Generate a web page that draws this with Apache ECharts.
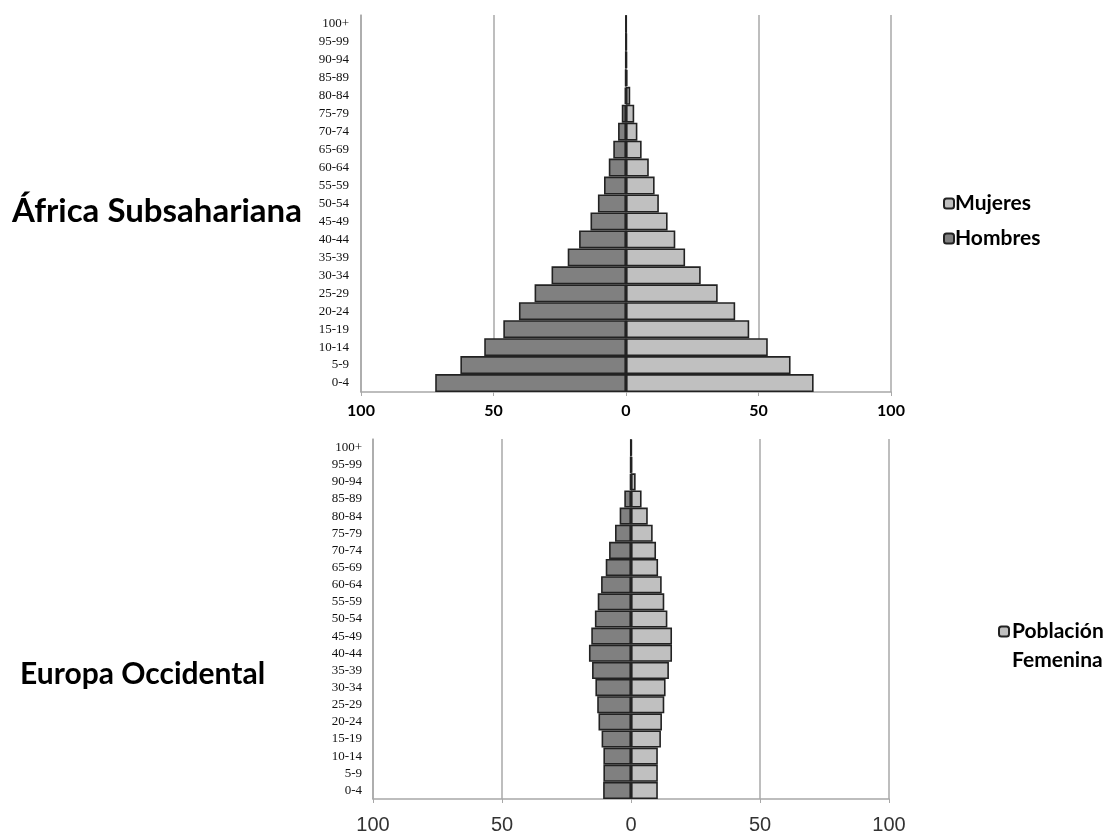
<!DOCTYPE html>
<html>
<head>
<meta charset="utf-8">
<script src="https://cdn.jsdelivr.net/npm/echarts@6/dist/echarts.min.js"></script>
<style>
  html, body { margin: 0; padding: 0; background: #ffffff; }
  #chart { width: 1108px; height: 835px; }
</style>
</head>
<body>
<div id="chart"></div>
<script>
// Age groups, youngest at the bottom
const ageGroups = ['0-4','5-9','10-14','15-19','20-24','25-29','30-34','35-39','40-44','45-49',
  '50-54','55-59','60-64','65-69','70-74','75-79','80-84','85-89','90-94','95-99','100+'];

// África Subsahariana
const africaHombres = [72, 62.5, 53.5, 46.3, 40.4, 34.5, 28.1, 22.0, 17.7, 13.4,
  10.6, 8.3, 6.5, 4.8, 3.0, 1.6, 0.5, 0.3, 0.2, 0.1, 0.1];
const africaMujeres = [70.8, 62.1, 53.5, 46.5, 41.2, 34.6, 28.2, 22.3, 18.6, 15.7,
  12.4, 10.8, 8.6, 5.9, 4.3, 3.1, 1.6, 0.6, 0.4, 0.3, 0.2];

// Europa Occidental
const europaHombres = [10.8, 10.7, 10.7, 11.4, 12.6, 13.1, 13.8, 15.1, 16.3, 15.4,
  14.0, 12.9, 11.6, 9.8, 8.5, 6.2, 4.4, 2.6, 0.4, 0.3, 0.2];
const europaMujeres = [10.4, 10.4, 10.4, 11.6, 12.0, 12.9, 13.4, 14.7, 15.9, 15.9,
  14.1, 12.9, 11.9, 10.5, 9.7, 8.4, 6.5, 4.1, 1.8, 0.5, 0.3];

const darkGrey = '#808080';
const lightGrey = '#c0c0c0';
const edge = '#222222';
const gridGrey = '#a8a8a8';
const neg = arr => arr.map(v => -v);

const chart = echarts.init(document.getElementById('chart'));

function barSeries(name, data, color, idx) {
  return {
    name: name,
    type: 'bar',
    xAxisIndex: idx,
    yAxisIndex: idx,
    data: data,
    barGap: '-100%',
    barCategoryGap: 0,
    itemStyle: { color: color, borderColor: edge, borderWidth: 1.6 },
    emphasis: { disabled: true },
    silent: true
  };
}

function valueAxis(idx, labelStyle) {
  return {
    type: 'value',
    gridIndex: idx,
    min: -100,
    max: 100,
    interval: 50,
    axisLine: { show: true, onZero: false, lineStyle: { color: gridGrey, width: 1.5 } },
    axisTick: { show: true, length: 4, lineStyle: { color: gridGrey } },
    splitLine: { show: true, lineStyle: { color: gridGrey, width: 1.5 } },
    axisLabel: Object.assign({ formatter: v => String(Math.abs(v)) }, labelStyle)
  };
}

function categoryAxis(idx, margin) {
  return {
    type: 'category',
    gridIndex: idx,
    data: ageGroups,
    axisLine: { show: true, onZero: false, lineStyle: { color: gridGrey, width: 1.5 } },
    axisTick: { show: false },
    axisLabel: {
      interval: 0,
      margin: margin,
      fontFamily: 'Liberation Serif',
      fontSize: 13,
      color: '#111'
    }
  };
}

const legendText = { fontFamily: 'Lato', fontWeight: 'bold', fontSize: 21, color: '#000' };

chart.setOption({
  animation: false,
  backgroundColor: '#ffffff',
  title: [
    {
      text: 'África Subsahariana',
      left: 7, top: 190,
      textStyle: { fontFamily: 'Lato', fontWeight: 'bold', fontSize: 33, color: '#000' }
    },
    {
      text: 'Europa Occidental',
      left: 15, top: 654,
      textStyle: { fontFamily: 'Lato', fontWeight: 'bold', fontSize: 30, color: '#000' }
    }
  ],
  legend: [
    {
      data: ['Mujeres', 'Hombres'],
      orient: 'vertical',
      left: 938, top: 188,
      itemWidth: 10, itemHeight: 10,
      itemGap: 14,
      selectedMode: false,
      textStyle: Object.assign({ padding: [0, 0, 0, -4] }, legendText)
    },
    {
      data: ['Población Femenina'],
      orient: 'vertical',
      left: 993, top: 616,
      itemWidth: 10, itemHeight: 10,
      selectedMode: false,
      formatter: name => name.split(' ')[0],
      textStyle: Object.assign({ padding: [0, 0, 0, -2] }, legendText)
    }
  ],
  graphic: [
    {
      type: 'text',
      left: 1012, top: 650,
      style: { text: 'Femenina', font: 'bold 21px Lato', fill: '#000' }
    }
  ],
  grid: [
    { left: 361, right: 217, top: 15, bottom: 443 },
    { left: 373, right: 219, top: 439, bottom: 36 }
  ],
  xAxis: [
    valueAxis(0, { fontFamily: 'Lato', fontWeight: 'bold', fontSize: 16, color: '#000', margin: 11 }),
    valueAxis(1, { fontFamily: 'Liberation Sans', fontSize: 20, color: '#333', margin: 16 })
  ],
  yAxis: [
    categoryAxis(0, 12),
    categoryAxis(1, 11)
  ],
  series: [
    barSeries('Hombres', neg(africaHombres), darkGrey, 0),
    barSeries('Mujeres', africaMujeres, lightGrey, 0),
    barSeries('Población Masculina', neg(europaHombres), darkGrey, 1),
    barSeries('Población Femenina', europaMujeres, lightGrey, 1)
  ]
});
</script>
</body>
</html>
